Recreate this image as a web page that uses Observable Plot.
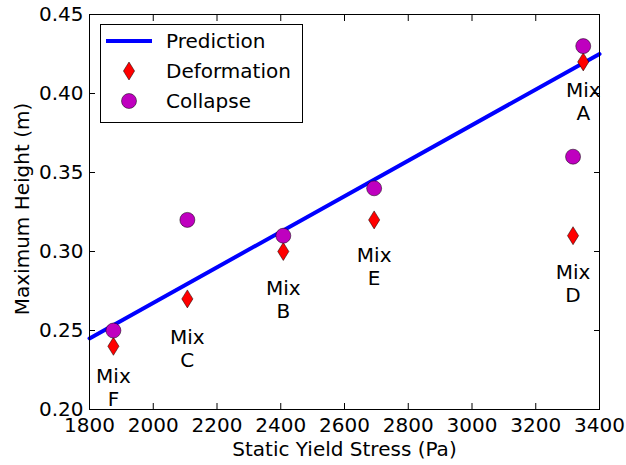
<!DOCTYPE html>
<html><head><meta charset="utf-8">
<script src="https://cdn.jsdelivr.net/npm/d3@7"></script>
<script src="https://cdn.jsdelivr.net/npm/@observablehq/plot@0.6"></script>
<style>
body{margin:0;background:#fff}
#wrap{position:relative;width:626px;height:465px;font-family:"DejaVu Sans",sans-serif}
#legend{position:absolute;left:100px;top:24px}
</style>
</head><body><div id="wrap"></div>
<script>
const mixes = ["A", "B", "C", "D", "E", "F"];
const stress = [3349, 2408, 2107, 3317, 2693, 1875];
const deformation = [0.42, 0.30, 0.27, 0.31, 0.32, 0.24];
const collapse = [0.43, 0.31, 0.32, 0.36, 0.34, 0.25];
const labelY = [0.395, 0.270, 0.239, 0.280, 0.291, 0.214];
const predX = [1800, 3400];
const predY = [0.245, 0.425];
const xTicks = [1800, 2000, 2200, 2400, 2600, 2800, 3000, 3200, 3400];
const yTicks = [0.20, 0.25, 0.30, 0.35, 0.40, 0.45];
const seriesNames = ["Prediction", "Deformation", "Collapse"];

const FS = 20;
const idx = mixes.map((_, i) => i);
const thinDiamond = {
  draw(ctx, size) {
    const r = Math.sqrt(size / Math.PI);
    const w = r * 0.62;
    ctx.moveTo(0, -r); ctx.lineTo(w, 0); ctx.lineTo(0, r); ctx.lineTo(-w, 0); ctx.closePath();
  }
};
const blank = () => "";

const chart = Plot.plot({
  width: 626, height: 465,
  marginLeft: 89, marginRight: 27, marginTop: 14, marginBottom: 56,
  style: {fontFamily: "DejaVu Sans", fontSize: FS + "px", color: "black", background: "white"},
  x: {domain: [1800, 3400]},
  y: {domain: [0.20, 0.45]},
  marks: [
    Plot.line(predX.map((x, i) => ({x, y: predY[i]})), {x: "x", y: "y", stroke: "#0000ff", strokeWidth: 4}),
    Plot.dot(idx, {x: i => stress[i], y: i => deformation[i], symbol: thinDiamond, r: 9, fill: "#ff0000", stroke: "#000", strokeWidth: 0.5}),
    Plot.dot(idx, {x: i => stress[i], y: i => collapse[i], r: 7.5, fill: "#bf00bf", stroke: "#000", strokeWidth: 0.5}),
    Plot.text(idx, {x: i => stress[i], y: i => labelY[i], text: i => "Mix\n" + mixes[i], lineHeight: 1.15, fontSize: FS, fill: "black"}),
    Plot.frame({stroke: "black"}),
    Plot.axisX({ticks: xTicks, tickSize: 0, tickPadding: 8, tickFormat: d => String(d), label: null, fontSize: FS}),
    Plot.axisX({ticks: xTicks, tickSize: -6, tickFormat: blank, label: null}),
    Plot.axisX({anchor: "top", ticks: xTicks, tickSize: -6, tickFormat: blank, label: null}),
    Plot.axisY({ticks: yTicks, tickSize: 0, tickPadding: 6, tickFormat: d3.format(".2f"), label: null, fontSize: FS}),
    Plot.axisY({ticks: yTicks, tickSize: -6, tickFormat: blank, label: null}),
    Plot.axisY({anchor: "right", ticks: yTicks, tickSize: -6, tickFormat: blank, label: null}),
    Plot.text(["Static Yield Stress (Pa)"], {frameAnchor: "bottom", textAnchor: "middle", lineAnchor: "middle", dy: 40, fontSize: FS}),
    Plot.text(["Maximum Height (m)"], {frameAnchor: "left", textAnchor: "middle", lineAnchor: "middle", rotate: -90, dx: -67, dy: -3, fontSize: FS})
  ]
});
const wrap = document.getElementById("wrap");
wrap.appendChild(chart);

// legend overlay
const lg = d3.select(wrap).append("svg").attr("id", "legend").attr("width", 203).attr("height", 99)
  .style("font-family", "DejaVu Sans").style("font-size", FS + "px");
lg.append("rect").attr("x", 0.5).attr("y", 0.5).attr("width", 202).attr("height", 98).attr("fill", "white").attr("stroke", "black");
lg.append("line").attr("x1", 6).attr("x2", 52).attr("y1", 17).attr("y2", 17).attr("stroke", "#0000ff").attr("stroke-width", 4);
const dp = d3.path(); thinDiamond.draw(dp, 81 * Math.PI);
lg.append("path").attr("d", dp.toString()).attr("transform", "translate(29,47)").attr("fill", "#ff0000").attr("stroke", "#000").attr("stroke-width", 0.5);
lg.append("circle").attr("cx", 29).attr("cy", 77).attr("r", 7.5).attr("fill", "#bf00bf").attr("stroke", "#000").attr("stroke-width", 0.5);
seriesNames.forEach((s, i) => {
  lg.append("text").attr("x", 66).attr("y", 17 + 30 * i).attr("dy", "0.35em").text(s);
});
</script>
</body></html>
